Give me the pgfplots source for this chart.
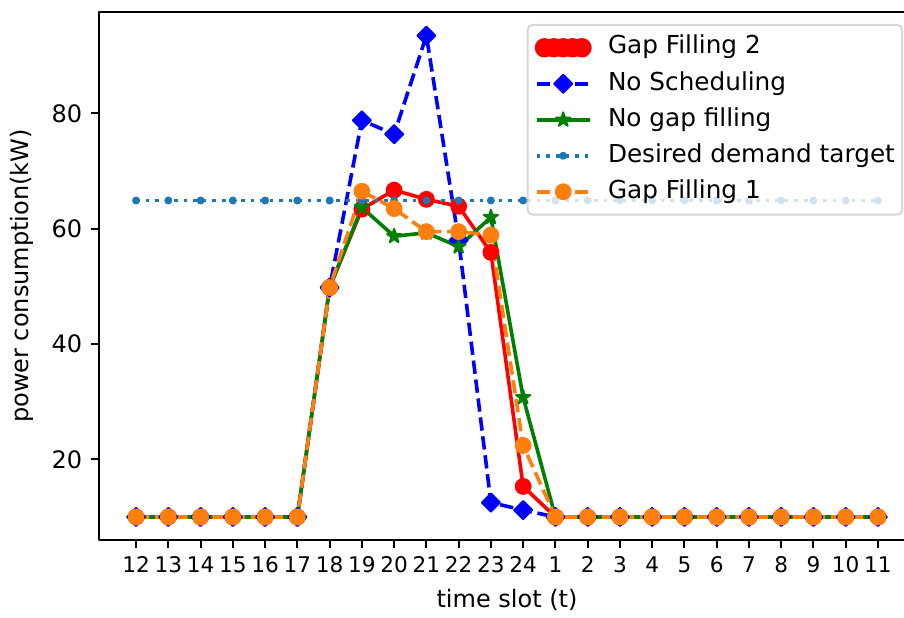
\documentclass[border=0pt]{standalone}
\usepackage{fontspec}
\setmainfont{DejaVu Sans}
\usepackage{pgfplots}
\usepackage{pgfplotstable}
\pgfplotsset{compat=1.18}
\usetikzlibrary{plotmarks}

\definecolor{gftwo}{HTML}{FF0000}
\definecolor{nosched}{HTML}{0000FF}
\definecolor{nogap}{HTML}{008000}
\definecolor{target}{HTML}{1F77B4}
\definecolor{gfone}{HTML}{FF7F0E}

% filled five-pointed star
\pgfdeclareplotmark{fstar}{%
  \pgfpathmoveto{\pgfpointpolar{90}{\pgfplotmarksize}}%
  \pgfpathlineto{\pgfpointpolar{126}{0.382\pgfplotmarksize}}%
  \pgfpathlineto{\pgfpointpolar{162}{\pgfplotmarksize}}%
  \pgfpathlineto{\pgfpointpolar{198}{0.382\pgfplotmarksize}}%
  \pgfpathlineto{\pgfpointpolar{234}{\pgfplotmarksize}}%
  \pgfpathlineto{\pgfpointpolar{270}{0.382\pgfplotmarksize}}%
  \pgfpathlineto{\pgfpointpolar{306}{\pgfplotmarksize}}%
  \pgfpathlineto{\pgfpointpolar{342}{0.382\pgfplotmarksize}}%
  \pgfpathlineto{\pgfpointpolar{18}{\pgfplotmarksize}}%
  \pgfpathlineto{\pgfpointpolar{54}{0.382\pgfplotmarksize}}%
  \pgfpathclose
  \pgfusepathqfillstroke
}

\pgfplotsset{
  legend image code/.code={%
    \draw[sharp corners,mark repeat=2,mark phase=2,#1,opacity=1]
      plot coordinates {(0pt,0pt) (11pt,0pt) (22pt,0pt)};%
  },
}

% power per time slot (slot index 0..23 = hours 12..24, 1..11)
\pgfplotstableread{
x  gf2   nosched nogap  target gf1
0  10    10      10     64.9   10
1  10    10      10     64.9   10
2  10    10      10     64.9   10
3  10    10      10     64.9   10
4  10    10      10     64.9   10
5  10    10      10     64.9   10
6  49.8  49.8    49.8   64.9   49.8
7  63.4  78.8    63.7   64.9   66.5
8  66.7  76.4    58.7   64.9   63.5
9  65.1  93.5    59.3   64.9   59.5
10 63.9  58.0    56.9   64.9   59.5
11 55.9  12.5    62.0   64.9   58.9
12 15.3  11.2    30.75  64.9   22.4
13 10    10      10     64.9   10
14 10    10      10     64.9   10
15 10    10      10     64.9   10
16 10    10      10     64.9   10
17 10    10      10     64.9   10
18 10    10      10     64.9   10
19 10    10      10     64.9   10
20 10    10      10     64.9   10
21 10    10      10     64.9   10
22 10    10      10     64.9   10
23 10    10      10     64.9   10
}\powertable

\begin{document}
\begin{tikzpicture}
\begin{axis}[
  scale only axis, width=340pt, height=220pt,
  xmin=-1.15, xmax=24.15, ymin=6, ymax=97.6,
  xtick={0,...,23},
  xticklabels={12,13,14,15,16,17,18,19,20,21,22,23,24,1,2,3,4,5,6,7,8,9,10,11},
  ytick={20,40,60,80},
  tick pos=left, tick align=outside, major tick length=3.5pt,
  tick style={line width=0.8pt, black},
  axis line style={line width=0.8pt},
  /pgf/number format/assume math mode=true,
  xticklabel style={font=\fontsize{9}{10}\selectfont, inner sep=0pt, anchor=north, yshift=-3.3pt},
  yticklabel style={font=\fontsize{10}{12}\selectfont, inner sep=0pt, anchor=east, xshift=-3.3pt},
  xlabel={time slot (t)},
  ylabel={power consumption(kW)},
  every axis x label/.style={at={(axis description cs:0.5,0)}, anchor=north,
    inner sep=0pt, yshift=-20.3pt, font=\fontsize{10}{12}\selectfont},
  every axis y label/.style={at={(axis description cs:0,0.5)}, rotate=90, anchor=south,
    inner sep=0pt, yshift=27.3pt, font=\fontsize{10}{12}\selectfont},
  legend cell align=left,
  legend style={at={(rel axis cs:1,1)}, anchor=north east, xshift=-5pt, yshift=-5pt,
    draw=black!20, line width=0.8pt, rounded corners=2pt,
    fill=white, fill opacity=0.8, draw opacity=0.8, text opacity=1,
    inner xsep=3pt, inner ysep=4.5pt, row sep=5pt,
    font=\fontsize{10.3}{12}\selectfont,
    nodes={inner sep=0pt, text height=7.6pt, text depth=2.4pt, anchor=west},
    /tikz/every odd column/.append style={column sep=6.8pt}},
  line cap=butt, line join=round,
]
\addplot[gftwo, line width=1.5pt, mark=*, mark size=3.1pt,
  mark options={solid, line width=0.8pt},
  legend image code/.code={%
    \foreach \cx in {3.2,7.1,11,14.9,18.8}{\fill[gftwo,opacity=1] (\cx pt,0pt) circle[radius=3.3pt];}%
  }]
  table[x=x, y=gf2]{\powertable};
\addlegendentry{Gap Filling 2}
\addplot[nosched, line width=1.5pt, dash pattern=on 5.55pt off 2.4pt,
  mark=square*, mark size=2.67pt, mark options={solid, rotate=45, line width=0.8pt}]
  table[x=x, y=nosched]{\powertable};
\addlegendentry{No Scheduling}
\addplot[nogap, line width=1.5pt, mark=fstar, mark size=3.1pt,
  mark options={solid, line width=0.8pt}]
  table[x=x, y=nogap]{\powertable};
\addlegendentry{No gap filling}
\addplot[target, line width=1.5pt, dash pattern=on 1.5pt off 2.475pt,
  mark=*, mark size=1.25pt, mark options={solid, line width=0.8pt}]
  table[x=x, y=target]{\powertable};
\addlegendentry{Desired demand target}
\addplot[gfone, line width=1.5pt, dash pattern=on 5.55pt off 2.4pt,
  mark=*, mark size=3.1pt, mark options={solid, line width=0.8pt}]
  table[x=x, y=gf1]{\powertable};
\addlegendentry{Gap Filling 1}
\end{axis}
\pgfresetboundingbox
\path[use as bounding box] (-41.25pt,-32.08pt) rectangle (335.4pt,225pt);
\end{tikzpicture}
\end{document}
